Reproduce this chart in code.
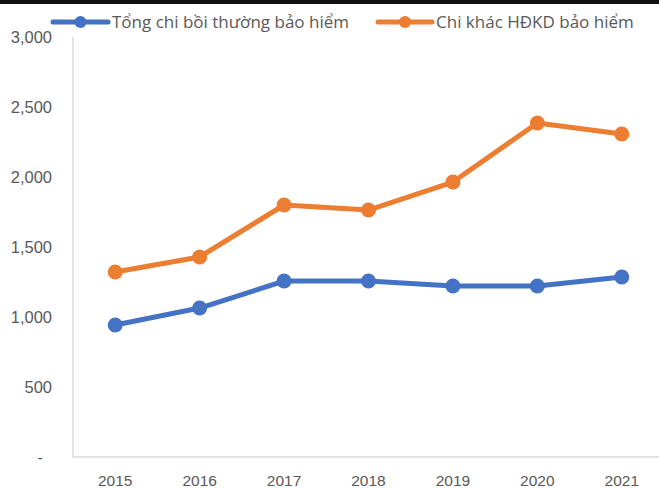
<!DOCTYPE html>
<html>
<head>
<meta charset="utf-8">
<script src="https://cdn.jsdelivr.net/npm/d3@7"></script>
<style>
  html, body { margin: 0; padding: 0; background: #fff; }
  svg { display: block; font-family: "Liberation Sans", Arial, sans-serif; }
</style>
</head>
<body>
<div id="chart"></div>
<script>
'use strict';

const years = ['2015', '2016', '2017', '2018', '2019', '2020', '2021'];
const boiThuong = [943, 1064, 1257, 1257, 1221, 1221, 1286];
const chiKhac = [1321, 1429, 1800, 1764, 1964, 2386, 2307];
const seriesNames = ['Tổng chi bồi thường bảo hiểm', 'Chi khác HĐKD bảo hiểm'];
const seriesColors = ['#4472C4', '#ED7D31'];
const yTicks = [0, 500, 1000, 1500, 2000, 2500, 3000];

const width = 659;
const height = 488;
const margin = { top: 37, right: -5, bottom: 31, left: 73 };

const svg = d3
  .select('#chart')
  .append('svg')
  .attr('width', width)
  .attr('height', height);

// dark strip along the top edge, as in the picture
svg.append('rect').attr('x', 0).attr('y', 0).attr('width', width).attr('height', 4).attr('fill', '#111');

const x = d3
  .scalePoint()
  .domain(years)
  .range([margin.left, width - margin.right])
  .padding(0.5);

const y = d3
  .scaleLinear()
  .domain([0, 3000])
  .range([height - margin.bottom, margin.top]);

const fmt = d3.format(',');

// axes lines
svg
  .append('line')
  .attr('x1', margin.left)
  .attr('x2', margin.left)
  .attr('y1', y(3000))
  .attr('y2', y(0))
  .attr('stroke', '#d9d9d9')
  .attr('stroke-width', 1.5);

svg
  .append('line')
  .attr('x1', margin.left)
  .attr('x2', width)
  .attr('y1', y(0))
  .attr('y2', y(0))
  .attr('stroke', '#d9d9d9')
  .attr('stroke-width', 1.5);

// y tick labels
svg
  .append('g')
  .selectAll('text')
  .data(yTicks)
  .enter()
  .append('text')
  .attr('x', (d) => (d === 0 ? 43 : 52))
  .attr('y', (d) => y(d))
  .attr('dy', '0.35em')
  .attr('text-anchor', 'end')
  .attr('fill', '#595959')
  .style('font-size', '16.5px')
  .text((d) => (d === 0 ? '-' : fmt(d)));

// x tick labels
svg
  .append('g')
  .selectAll('text')
  .data(years)
  .enter()
  .append('text')
  .attr('x', (d) => x(d))
  .attr('y', 481)
  .attr('dy', '0.35em')
  .attr('text-anchor', 'middle')
  .attr('fill', '#595959')
  .style('font-size', '15.5px')
  .text((d) => d);

const series = [boiThuong, chiKhac];

const line = d3
  .line()
  .x((d, i) => x(years[i]))
  .y((d) => y(d));

series.forEach((values, k) => {
  const g = svg.append('g');
  g.append('path')
    .datum(values)
    .attr('d', line)
    .attr('fill', 'none')
    .attr('stroke', seriesColors[k])
    .attr('stroke-width', 5)
    .attr('stroke-linejoin', 'round');
  g.selectAll('circle')
    .data(values)
    .enter()
    .append('circle')
    .attr('cx', (d, i) => x(years[i]))
    .attr('cy', (d) => y(d))
    .attr('r', 7.5)
    .attr('fill', seriesColors[k]);
});

// legend
const legendItems = [
  { x0: 53, x1: 108, tx: 112 },
  { x0: 378, x1: 432, tx: 436 },
];
const ly = 22;

legendItems.forEach((it, k) => {
  const g = svg.append('g');
  g.append('line')
    .attr('x1', it.x0)
    .attr('x2', it.x1)
    .attr('y1', ly)
    .attr('y2', ly)
    .attr('stroke', seriesColors[k])
    .attr('stroke-width', 5)
    .attr('stroke-linecap', 'round');
  g.append('circle')
    .attr('cx', (it.x0 + it.x1) / 2)
    .attr('cy', ly)
    .attr('r', 6)
    .attr('fill', seriesColors[k]);
  g.append('text')
    .attr('x', it.tx)
    .attr('y', ly)
    .attr('dy', '0.35em')
    .attr('fill', '#595959')
    .style('font-family', '"Open Sans", "Liberation Sans", sans-serif')
    .style('font-size', '17px')
    .text(seriesNames[k]);
});
</script>
</body>
</html>
